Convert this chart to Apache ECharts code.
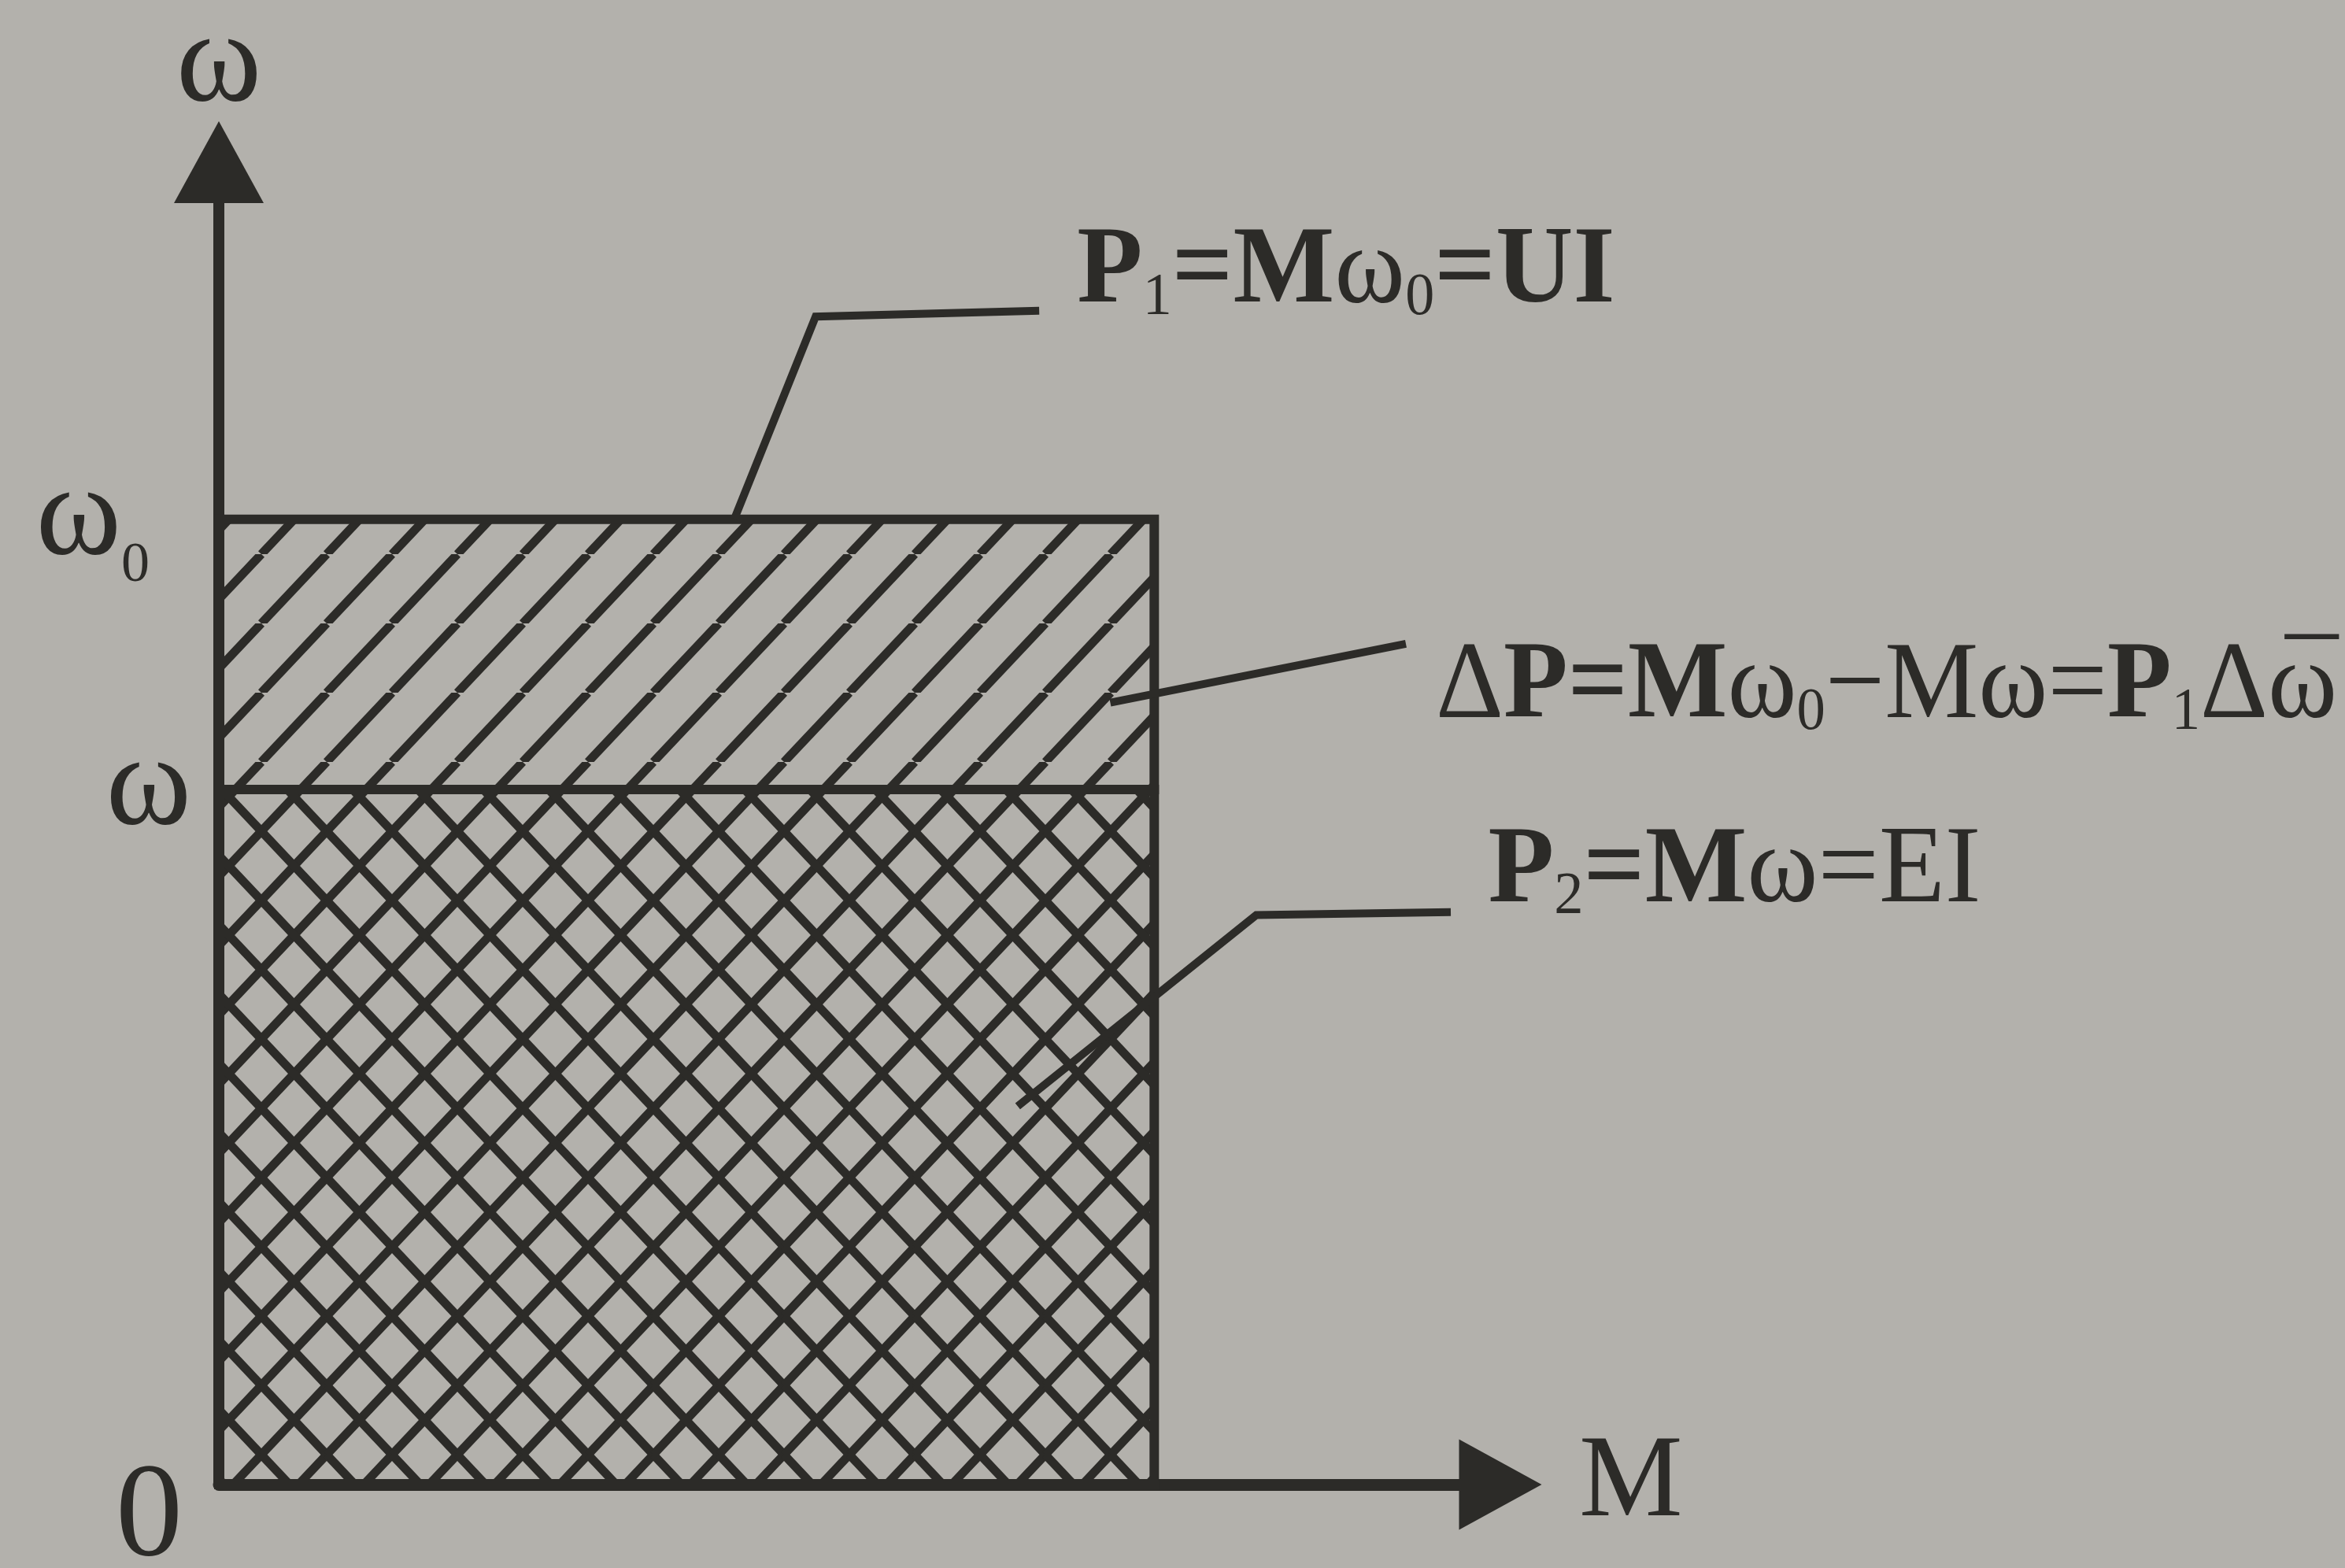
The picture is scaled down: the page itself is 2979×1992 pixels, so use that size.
<!DOCTYPE html>
<html>
<head>
<meta charset="utf-8">
<title>P1 = Mω0, P2 = Mω, ΔP</title>
<script src="https://cdn.jsdelivr.net/npm/echarts@6.0.0/dist/echarts.min.js"></script>
<style>
  html, body { margin: 0; padding: 0; background: #b3b1ac; }
  #chart { width: 2979px; height: 1992px; }
</style>
</head>
<body>
<div id="chart"></div>
<script>
// torque span of the rectangle (M axis) and the two speed levels (ω axis)
const torqueSpan = [0, 1.0]
const speedTicks = [0.72, 1.0]          // ω, ω0
const speedTickNames = ['ω', 'ω0']
const bandLow = [0, 0.72]               // P2 band, ΔP band
const bandHigh = [0.72, 1.0]
const bandHatch = ['cross', 'single']
const axisMax = [1.37, 1.37]            // M, ω

// annotation texts, anchors and leader lines (data coordinates)
const noteText = [
  '{b|P}{s|1}{b|=M}{r|ω}{s|0}{b|=UI}',
  '{r|Δ}{b|P=M}{r|ω}{s|0}{r|−Mω=}{b|P}{s|1}{r|Δω}{bar|¯}',
  '{b|P}{s|2}{b|=M}{r|ω=EI}'
]
const noteAnchor = [[0.9175, 1.255], [1.301, 0.825], [1.357, 0.634]]
const noteLeader = [
  [[0.551, 1.0], [0.638, 1.21], [0.877, 1.216]],
  [[0.953, 0.81], [1.269, 0.871]],
  [[0.854, 0.392], [1.109, 0.59], [1.317, 0.593]]
]
const noteScale = [0.975, 0.956, 0.98]

const ink = '#2c2b28'
const serif = '"Liberation Serif", "Times New Roman", "DejaVu Serif", serif'

const hatchTile = (cross) => {
  const w = 83, h = 88
  const c = document.createElement('canvas')
  c.width = w
  c.height = h
  const g = c.getContext('2d')
  g.strokeStyle = ink
  g.lineWidth = 11
  for (let k = -1; k <= 1; k++) {
    g.beginPath(); g.moveTo(k * w, h); g.lineTo(k * w + w, 0); g.stroke()
    if (cross) {
      g.beginPath(); g.moveTo(k * w, 0); g.lineTo(k * w + w, h); g.stroke()
    }
  }
  return c
}
const patterns = {
  single: { image: hatchTile(false), repeat: 'repeat' },
  cross: { image: hatchTile(true), repeat: 'repeat' }
}

const noteRich = {
  b: { fontFamily: serif, fontSize: 140, fontWeight: 'bold', lineHeight: 140, fill: ink },
  r: { fontFamily: serif, fontSize: 140, fontWeight: 'normal', lineHeight: 140, fill: ink },
  s: { fontFamily: serif, fontSize: 76, fontWeight: 'normal', lineHeight: 56, verticalAlign: 'bottom', fill: ink },
  bar: { fontFamily: serif, fontSize: 140, fontWeight: 'normal', lineHeight: 140, width: 1, align: 'right', fill: ink }
}

const chart = echarts.init(document.getElementById('chart'))

const option = {
  backgroundColor: '#b3b1ac',
  animation: false,
  grid: { left: 278, right: 1073, top: 206, bottom: 106, outerBoundsMode: 'none' },
  xAxis: {
    type: 'value',
    min: 0,
    max: axisMax[0],
    name: 'M',
    nameLocation: 'end',
    nameGap: 100,
    nameTextStyle: { fontFamily: serif, fontSize: 148, color: ink, verticalAlign: 'middle', padding: [0, 0, 54, 0] },
    axisLine: {
      show: true,
      symbol: ['none', 'triangle'],
      symbolSize: [115, 105],
      lineStyle: { color: ink, width: 15 }
    },
    axisTick: { show: false },
    splitLine: { show: false },
    axisLabel: {
      customValues: [0],
      formatter: () => '0',
      fontFamily: serif,
      fontSize: 170,
      color: ink,
      margin: 44,
      align: 'right',
      verticalAlign: 'middle',
      padding: [0, 46, 0, 0]
    }
  },
  yAxis: {
    type: 'value',
    min: 0,
    max: axisMax[1],
    name: 'ω',
    nameLocation: 'end',
    nameGap: 122,
    nameTextStyle: { fontFamily: serif, fontSize: 165, color: ink, verticalAlign: 'middle', align: 'center' },
    axisLine: {
      show: true,
      symbol: ['none', 'triangle'],
      symbolSize: [114, 104],
      lineStyle: { color: ink, width: 14 }
    },
    axisTick: { show: false },
    splitLine: { show: false },
    axisLabel: {
      customValues: speedTicks,
      margin: 35,
      formatter: (v) => {
        const name = speedTickNames[speedTicks.indexOf(v)] || ''
        return name.length > 1 ? '{w|' + name[0] + '}{s|' + name.slice(1) + '}{gap| }' : '{w|' + name + '}'
      },
      rich: {
        w: { fontFamily: serif, fontSize: 165, lineHeight: 165, color: ink },
        s: { fontFamily: serif, fontSize: 72, lineHeight: 16, verticalAlign: 'top', padding: [106, 0, 0, 0], color: ink },
        gap: { width: 53 }
      }
    }
  },
  series: [
    {
      type: 'custom',
      name: 'bands',
      encode: { x: [0, 1], y: [2, 3] },
      data: bandLow.map((low, i) => [torqueSpan[0], torqueSpan[1], low, bandHigh[i]]),
      renderItem: (params, api) => {
        const p0 = api.coord([api.value(0), api.value(2)])
        const p1 = api.coord([api.value(1), api.value(3)])
        return {
          type: 'rect',
          shape: { x: p0[0], y: p1[1], width: p1[0] - p0[0], height: p0[1] - p1[1] },
          style: {
            fill: patterns[bandHatch[params.dataIndex]],
            stroke: ink,
            lineWidth: 12
          }
        }
      },
      z: 3
    },
    {
      type: 'custom',
      name: 'notes',
      data: noteAnchor,
      renderItem: (params, api) => {
        const i = params.dataIndex
        const at = api.coord([api.value(0), api.value(1)])
        return {
          type: 'group',
          children: [
            {
              type: 'polyline',
              shape: { points: noteLeader[i].map((p) => api.coord(p)) },
              style: { stroke: ink, lineWidth: 10, fill: null, lineJoin: 'miter' }
            },
            {
              type: 'text',
              x: at[0],
              y: at[1],
              scaleX: noteScale[i],
              style: {
                text: noteText[i],
                rich: noteRich,
                align: 'left',
                verticalAlign: 'middle',
                fill: ink
              }
            }
          ]
        }
      },
      z: 4
    }
  ]
}

chart.setOption(option)
window.addEventListener('resize', () => chart.resize())
</script>
</body>
</html>
